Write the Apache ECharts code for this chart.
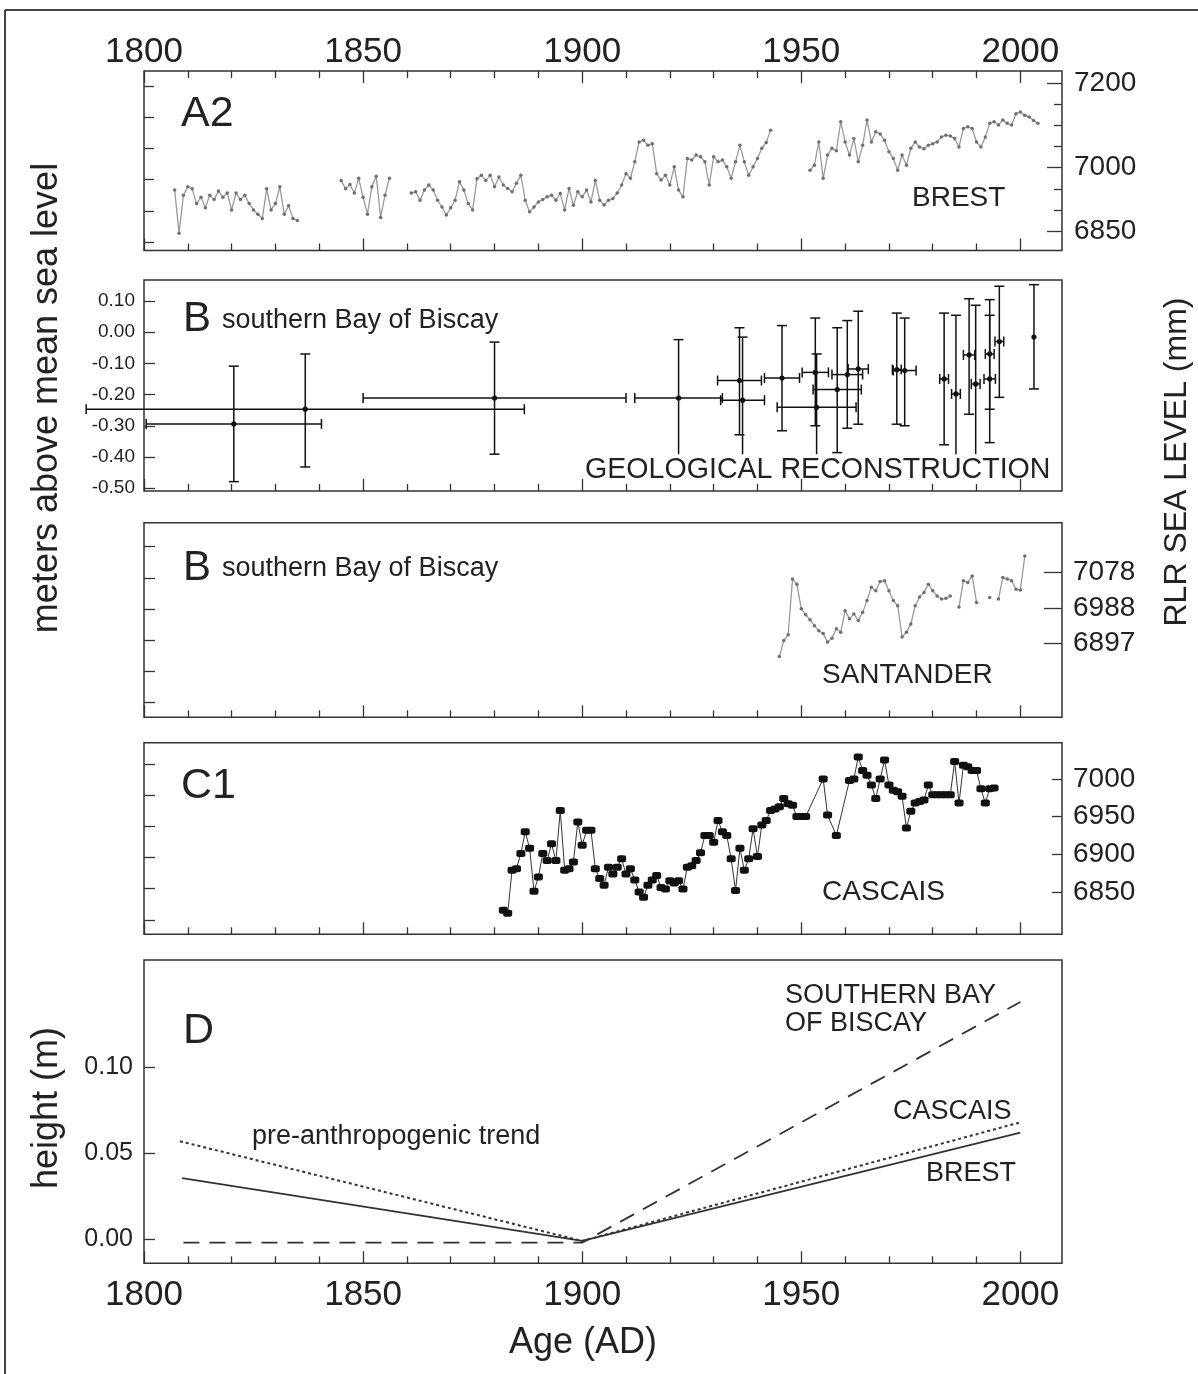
<!DOCTYPE html>
<html><head><meta charset="utf-8">
<script src="https://cdn.jsdelivr.net/npm/echarts@6/dist/echarts.min.js"></script>
<style>html,body{margin:0;padding:0;background:#fff}#c{width:1198px;height:1374px}</style>
</head><body><div id="c"></div>
<script>
// ---------- DATA ----------
const xTickLabels = [1800, 1850, 1900, 1950, 2000];
const xMajorTicks = [1800, 1850, 1900, 1950, 2000];
const xMinorTicks = [1810, 1820, 1830, 1840, 1860, 1870, 1880, 1890, 1910, 1920, 1930, 1940, 1960, 1970, 1980, 1990];

// Brest annual RLR sea level (mm), segments separated by gaps
const brest1807 = [6947, 6845, 6935, 6955, 6950, 6915, 6930, 6905, 6935, 6925, 6945, 6930, 6940, 6900, 6940, 6925, 6935, 6915, 6900, 6890, 6880, 6950, 6900, 6915, 6955, 6890, 6910, 6880, 6875];
const brest1845 = [6970, 6950, 6960, 6940, 6975, 6930, 6890, 6955, 6980, 6882, 6935, 6975];
const brest1861 = [6940, 6943, 6923, 6947, 6959, 6947, 6923, 6907, 6888, 6905, 6923, 6967, 6947, 6915, 6900, 6974, 6982, 6970, 6982, 6955,
  6978, 6959, 6951, 6943, 6963, 6982, 6923, 6896, 6907, 6919, 6925, 6931, 6935, 6923, 6939, 6900, 6951, 6911, 6943, 6931,
  6947, 6919, 6970, 6923, 6912, 6923, 6927, 6940, 6959, 6986, 6975, 7014, 7061, 7065, 7053, 7057, 6986, 6971, 6982, 6959,
  7002, 6947, 6931, 7022, 7018, 7030, 7026, 7014, 6959, 7026, 7014, 7018, 7002, 6975, 7014, 7053, 7014, 6982, 7002, 7022,
  7046, 7060, 7089];
const brest1952 = [6994, 7006, 7061, 6975, 7030, 7046, 7040, 7109, 7061, 7030, 7069, 7014, 7053, 7113, 7061, 7085, 7080, 7065, 7038, 7022,
  6994, 7030, 7006, 7046, 7061, 7049, 7045, 7053, 7057, 7061, 7073, 7077, 7075, 7069, 7049, 7093, 7097, 7093, 7061, 7049,
  7073, 7105, 7109, 7101, 7113, 7105, 7101, 7128, 7132, 7124, 7120, 7112, 7105];

// Geological reconstruction: [age, ageErr, height, heightLow, heightHigh, lowerCap]
const geoPoints = [
  [1820.5, 20, -0.294, -0.479, -0.109, 1],
  [1836.8, 50, -0.247, -0.432, -0.070, 1],
  [1880.0, 30, -0.211, -0.391, -0.032, 1],
  [1922.0, 10, -0.211, -0.391, -0.024, 0],
  [1935.9, 5, -0.155, -0.329, 0.014, 1],
  [1936.6, 5, -0.218, -0.391, -0.016, 0],
  [1945.6, 4, -0.147, -0.316, 0.021, 1],
  [1953.2, 3, -0.129, -0.300, 0.045, 1],
  [1953.5, 9, -0.241, -0.391, -0.070, 0],
  [1958.2, 5.5, -0.184, -0.386, 0.014, 1],
  [1960.5, 3.5, -0.136, -0.308, 0.037, 1],
  [1963.0, 2.3, -0.118, -0.295, 0.067, 1],
  [1971.8, 1, -0.120, -0.295, 0.061, 1],
  [1973.6, 2.6, -0.123, -0.300, 0.045, 1],
  [1982.6, 1, -0.150, -0.361, 0.061, 1],
  [1985.3, 1, -0.198, -0.391, 0.054, 0],
  [1988.3, 1.3, -0.073, -0.263, 0.107, 1],
  [1989.8, 1, -0.166, -0.391, 0.086, 0],
  [1993.0, 1, -0.070, -0.247, 0.104, 1],
  [1993.0, 1.3, -0.150, -0.354, 0.054, 1],
  [1995.2, 1, -0.030, -0.209, 0.147, 1],
  [2003.1, 0, -0.016, -0.182, 0.152, 1]
];

// Santander annual RLR (mm), from 1945; null = missing year
const santanderStart = 1945;
const santanderValues = [6863, 6904, 6919, 7061, 7048, 6985, 6970, 6957, 6942, 6929, 6922, 6900, 6910, 6934, 6925, 6980, 6960, 6972, 6955, 6976,
  7006, 7040, 7031, 7055, 7057, 7031, 7006, 6993, 6913, 6925, 6946, 6993, 7015, 7027, 7048, 7031, 7018, 7010, 7012, 7018,
  null, 6990, 7057, 7052, 7069, 7001, null, null, 7014, null, 7010, 7065, 7061, 7057, 7035, 7033, 7120];

// Cascais annual RLR (mm)
const cascaisYears = [1882, 1883, 1884, 1885, 1886, 1887, 1888, 1889, 1890, 1891, 1892, 1893, 1894, 1895, 1896, 1897, 1898, 1899, 1900, 1901,
  1902, 1903, 1904, 1905, 1906, 1907, 1908, 1909, 1910, 1911, 1912, 1913, 1914, 1915, 1916, 1917, 1918, 1919, 1920, 1921,
  1922, 1923, 1924, 1925, 1926, 1927, 1928, 1929, 1930, 1931, 1932, 1933, 1934, 1935, 1936, 1937, 1938, 1939, 1940, 1941,
  1942, 1943, 1944, 1945, 1946, 1947, 1948, 1949, 1950, 1951, 1955, 1956, 1958, 1961, 1962, 1963, 1964, 1965, 1966, 1967,
  1968, 1969, 1970, 1971, 1972, 1973, 1974, 1975, 1976, 1977, 1978, 1979, 1980, 1981, 1982, 1983, 1984, 1985, 1986, 1987,
  1988, 1989, 1990, 1991, 1992, 1993, 1994];
const cascaisValues = [6826, 6822, 6879, 6881, 6901, 6930, 6908, 6851, 6870, 6901, 6892, 6914, 6892, 6958, 6879, 6881, 6890, 6943, 6912, 6932,
  6932, 6881, 6868, 6859, 6883, 6874, 6883, 6894, 6874, 6881, 6866, 6850, 6843, 6859, 6866, 6872, 6856, 6854, 6865, 6862,
  6865, 6854, 6883, 6885, 6892, 6902, 6925, 6925, 6916, 6945, 6930, 6925, 6894, 6852, 6908, 6879, 6894, 6934, 6897, 6939,
  6945, 6958, 6960, 6963, 6974, 6967, 6965, 6950, 6950, 6950, 7000, 6952, 6925, 6998, 7000, 7029, 7011, 7005, 6992, 6974,
  7000, 7025, 6992, 6985, 6983, 6977, 6935, 6957, 6968, 6970, 6972, 6992, 6979, 6979, 6979, 6979, 6979, 7023, 6968, 7018,
  7016, 7011, 7011, 6987, 6968, 6987, 6988];

// Panel D trends (m): [year, height]
const trendBrest = [[1808.7, 0.0355], [1900, -0.001], [2000, 0.062]];
const trendCascais = [[1808.2, 0.057], [1900, -0.001], [2000, 0.068]];
const trendBiscay = [[1809, -0.002], [1900, -0.002], [2000, 0.138]];

// Axis tick values
const a2RightMajor = [6850, 7000, 7200];
const a2RightMinor = [6900, 6950, 7050, 7100, 7150];
const meterTicks = [0, 0.1, 0.2, 0.3, 0.4, 0.5];
const geoLeftTicks = [-0.5, -0.4, -0.3, -0.2, -0.1, 0, 0.1];
const santanderRight = [6897, 6987.5, 7078];
const cascaisRight = [6850, 6900, 6950, 7000];
const dLeftTicks = [0, 0.05, 0.10];

// ---------- CHART ----------
const FONT = '"Liberation Sans", Arial, Helvetica, sans-serif';
const INK = '#222';
const TICK = { color: '#333', width: 1.3 };
const X_MIN = 1800, X_MAX = 2009.5;

const grids = [
  { left: 144, right: 136, top: 71, height: 179.5 },
  { left: 144, right: 136, top: 280, height: 211 },
  { left: 144, right: 136, top: 522.7, height: 194.6 },
  { left: 144, right: 136, top: 742.7, height: 191.6 },
  { left: 144, right: 136, top: 960, height: 303.3 }
].map(g => Object.assign(g, { show: true, borderColor: '#333', borderWidth: 1.5, backgroundColor: 'transparent' }));

const xAxes = [];
function xAx(grid, pos, ticks, len, labels, margin) {
  xAxes.push({
    type: 'value', gridIndex: grid, position: pos, min: X_MIN, max: X_MAX,
    axisLine: { show: false, onZero: false }, splitLine: { show: false },
    axisTick: { show: true, inside: true, length: len, customValues: ticks, lineStyle: TICK },
    axisLabel: labels ? { show: true, customValues: labels, formatter: v => String(v), fontSize: 35, color: INK, fontFamily: FONT, margin: margin } : { show: false }
  });
  return xAxes.length - 1;
}
const xMain = [];
for (let g = 0; g < 5; g++) {
  xMain.push(xAx(g, 'bottom', xMajorTicks, 12, g === 4 ? xTickLabels : null, 15));
  xAx(g, 'bottom', xMinorTicks, 7, null);
}
xAx(0, 'top', xMajorTicks, 12, xTickLabels, 1);
xAx(0, 'top', xMinorTicks, 7, null);

const yAxes = [];
function yAx(grid, pos, min, max, ticks, len, labels, fmt, fontSize, margin) {
  yAxes.push({
    type: 'value', gridIndex: grid, position: pos, min: min, max: max,
    axisLine: { show: false, onZero: false }, splitLine: { show: false },
    axisTick: { show: true, inside: true, length: len, customValues: ticks, lineStyle: TICK },
    axisLabel: labels ? { show: true, customValues: labels, formatter: fmt, fontSize: fontSize, color: INK, fontFamily: FONT, margin: margin } : { show: false }
  });
  return yAxes.length - 1;
}
const yA2 = yAx(0, 'right', 6804, 7229, a2RightMajor, 15, a2RightMajor, v => String(v), 28, 12);
yAx(0, 'right', 6804, 7229, a2RightMinor, 8, null);
yAx(0, 'left', -0.027, 0.548, meterTicks, 10, null);
const yGeo = yAx(1, 'left', -0.509, 0.167, geoLeftTicks, 11, geoLeftTicks, v => v.toFixed(2), 19, 9);
yAx(2, 'left', -0.047, 0.577, meterTicks, 11, null);
const ySan = yAx(2, 'right', 6708, 7205, santanderRight, 18, santanderRight, v => String(Math.round(v)), 28, 11);
yAx(3, 'left', -0.046, 0.568, meterTicks, 11, null);
const yCas = yAx(3, 'right', 6794, 7048, cascaisRight, 10, cascaisRight, v => String(v), 28, 11);
const yD = yAx(4, 'left', -0.014, 0.1624, dLeftTicks, 11, dLeftTicks, v => v.toFixed(2), 25, 11);

// build data
function seg(start, vals) { return vals.map((v, i) => [start + i, v == null ? '-' : v]); }
const brestData = [].concat(
  seg(1807, brest1807), [[1840, '-']],
  seg(1845, brest1845), [[1858, '-']],
  seg(1861, brest1861), [[1948, '-']],
  seg(1952, brest1952));
const santanderData = seg(santanderStart, santanderValues);
const cascaisData = cascaisYears.map((y, i) => [y, cascaisValues[i]]);

function renderErr(params, api) {
  const x = api.value(0), xe = api.value(1), y = api.value(2), yl = api.value(3), yh = api.value(4), capLow = api.value(5);
  const c = api.coord([x, y]);
  const pt = api.coord([x, yh]), pb = api.coord([x, yl]);
  const pl = api.coord([x - xe, y]), pr = api.coord([x + xe, y]);
  const st = { stroke: '#111', lineWidth: 1.5, fill: null };
  const ch = [];
  const L = (x1, y1, x2, y2) => ch.push({ type: 'line', shape: { x1, y1, x2, y2 }, style: st });
  L(pt[0], pt[1], pb[0], pb[1]);
  L(pt[0] - 5, pt[1], pt[0] + 5, pt[1]);
  if (capLow) L(pb[0] - 5, pb[1], pb[0] + 5, pb[1]);
  if (xe > 0) {
    L(pl[0], pl[1], pr[0], pr[1]);
    L(pl[0], pl[1] - 5, pl[0], pl[1] + 5);
    L(pr[0], pr[1] - 5, pr[0], pr[1] + 5);
  }
  ch.push({ type: 'circle', shape: { cx: c[0], cy: c[1], r: 2.6 }, style: { fill: '#111' } });
  return { type: 'group', children: ch };
}

const series = [
  { type: 'line', name: 'Brest', xAxisIndex: xMain[0], yAxisIndex: yA2, data: brestData,
    symbol: 'circle', symbolSize: 3.5, itemStyle: { color: '#6f6f6f' }, lineStyle: { color: '#9a9a9a', width: 1.3 }, connectNulls: false },
  { type: 'custom', name: 'Geological', xAxisIndex: xMain[1], yAxisIndex: yGeo, data: geoPoints, renderItem: renderErr, clip: false, z: 3 },
  { type: 'line', name: 'Santander', xAxisIndex: xMain[2], yAxisIndex: ySan, data: santanderData,
    symbol: 'circle', symbolSize: 3.5, itemStyle: { color: '#6f6f6f' }, lineStyle: { color: '#9a9a9a', width: 1.3 }, connectNulls: false },
  { type: 'line', name: 'Cascais', xAxisIndex: xMain[3], yAxisIndex: yCas, data: cascaisData,
    symbol: 'roundRect', symbolSize: [9, 7], itemStyle: { color: '#111' }, lineStyle: { color: '#333', width: 1 } },
  { type: 'line', name: 'Brest trend', xAxisIndex: xMain[4], yAxisIndex: yD, data: trendBrest, symbol: 'none',
    lineStyle: { color: '#333', width: 1.8, type: 'solid' } },
  { type: 'line', name: 'Cascais trend', xAxisIndex: xMain[4], yAxisIndex: yD, data: trendCascais, symbol: 'none',
    lineStyle: { color: '#333', width: 2, type: [3, 3] } },
  { type: 'line', name: 'Biscay trend', xAxisIndex: xMain[4], yAxisIndex: yD, data: trendBiscay, symbol: 'none',
    lineStyle: { color: '#333', width: 1.8, type: [16, 10] } }
];

function T(text, x, y, size, opts) {
  return { type: 'text', x: x, y: y, z: 10,
    style: Object.assign({ text: text, fontSize: size, fontFamily: FONT, fill: INK, verticalAlign: 'middle' }, opts || {}) };
}
function R(text, x, y, size) {
  return { type: 'text', x: x, y: y, rotation: Math.PI / 2, z: 10,
    style: { text: text, fontSize: size, fontFamily: FONT, fill: INK, align: 'center', verticalAlign: 'middle' } };
}

const graphic = [
  { type: 'line', shape: { x1: 5, y1: 10, x2: 5, y2: 1374 }, style: { stroke: '#444', lineWidth: 2 } },
  { type: 'line', shape: { x1: 5, y1: 10, x2: 1198, y2: 10 }, style: { stroke: '#444', lineWidth: 2 } },
  T('A2', 181, 114, 43),
  T('BREST', 912, 198, 28),
  T('B', 183, 319, 42),
  T('southern Bay of Biscay', 222, 321, 27),
  T('GEOLOGICAL RECONSTRUCTION', 585, 470, 28.6),
  T('B', 183, 568, 42),
  T('southern Bay of Biscay', 222, 569, 27),
  T('SANTANDER', 822, 675, 28),
  T('C1', 181, 786, 43),
  T('CASCAIS', 822, 892, 28),
  T('D', 183, 1031, 43),
  T('SOUTHERN BAY', 785, 996, 27),
  T('OF BISCAY', 785, 1024, 27),
  T('CASCAIS', 893, 1112, 27),
  T('BREST', 926, 1174, 27),
  T('pre-anthropogenic trend', 252, 1137, 27),
  T('Age (AD)', 583, 1343, 36, { align: 'center' }),
  R('meters above mean sea level', 47, 398, 36),
  R('RLR SEA LEVEL (mm)', 1177, 462, 32),
  R('height (m)', 47, 1108, 36)
];

const chart = echarts.init(document.getElementById('c'), null, { renderer: 'canvas' });
chart.setOption({
  animation: false,
  backgroundColor: '#fff',
  grid: grids,
  xAxis: xAxes,
  yAxis: yAxes,
  series: series,
  graphic: graphic
});
</script>
</body></html>
